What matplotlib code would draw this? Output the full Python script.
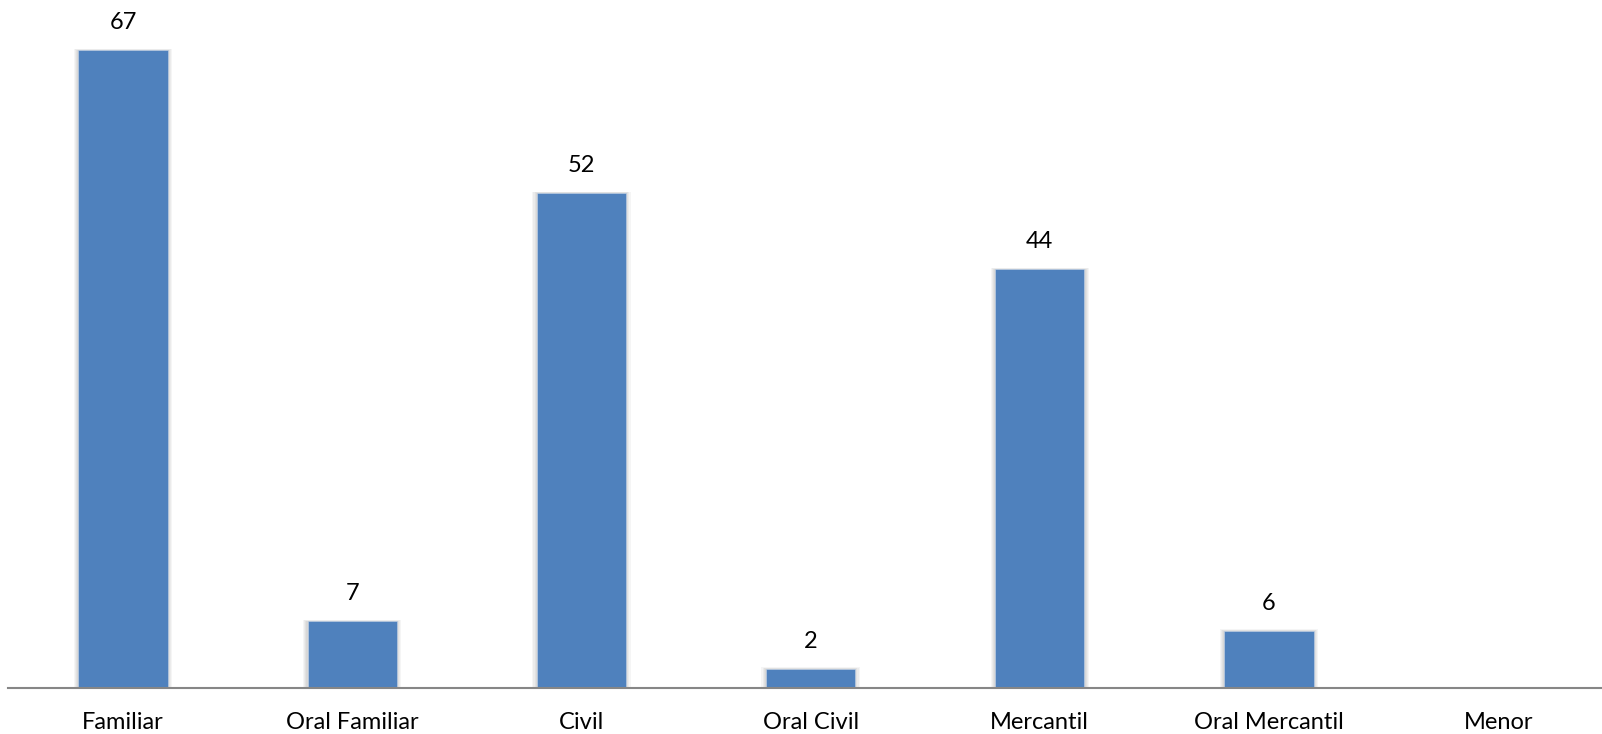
import matplotlib
matplotlib.use("Agg")
import matplotlib.pyplot as plt
import numpy as np

categories = ["Familiar", "Oral Familiar", "Civil", "Oral Civil",
              "Mercantil", "Oral Mercantil", "Menor"]
values = [67, 7, 52, 2, 44, 6, 0]

plt.rcParams['font.family'] = ['Lato', 'DejaVu Sans']

fig = plt.figure(figsize=(16.02, 7.34), dpi=100)
# axes run a little past the right edge, as in the original crop
ax = fig.add_axes([8.4 / 1602, 46 / 734, 7 * 229.2 / 1602, 688 / 734])

x = np.arange(len(categories))
w = 0.39

# soft shadow behind the bars (mostly on the sides)
for grow in [0.04, 0.028, 0.018, 0.01]:
    ax.bar(x[:-1], np.array(values[:-1]) + grow * 4, width=w + grow,
           color="#000000", alpha=0.04, linewidth=0, zorder=1)

bars = ax.bar(x, values, width=w, color="#4F81BD",
              edgecolor="#c6d4e8", linewidth=0.4, zorder=3)

for xi, v in zip(x, values):
    if v > 0:
        ax.text(xi, v + 2.9, str(v), ha="center", va="center",
                fontsize=17, color="black")

ax.set_xlim(-0.5, len(categories) - 0.5)
ax.set_ylim(0, 72.3)
ax.set_xticks(x)
ax.set_xticklabels(categories, fontsize=17)
ax.tick_params(axis="x", length=0, pad=17)
ax.set_yticks([])
for s in ["top", "right", "left"]:
    ax.spines[s].set_visible(False)
ax.spines["bottom"].set_color("#868686")
ax.spines["bottom"].set_linewidth(1.5)
ax.spines["bottom"].set_zorder(4)

fig.savefig("out.png", dpi=100)
